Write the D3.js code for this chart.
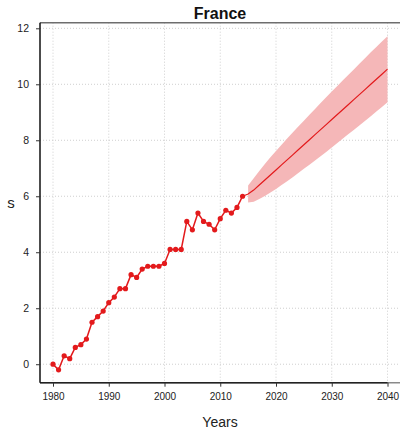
<!DOCTYPE html>
<html>
<head>
<meta charset="utf-8">
<script src="https://cdn.jsdelivr.net/npm/d3@7"></script>
<style>
  html, body { margin: 0; padding: 0; background: #fff; }
  svg { display: block; font-family: "Liberation Sans", Arial, Helvetica, sans-serif; }
</style>
</head>
<body>
<svg id="chart" width="400" height="430"></svg>
<script>
// Observed series, 1980–2014
const years = d3.range(1980, 2015);
const values = [0, -0.2, 0.3, 0.2, 0.6, 0.7, 0.9, 1.5, 1.7, 1.9,
                2.2, 2.4, 2.7, 2.7, 3.2, 3.1, 3.4, 3.5, 3.5, 3.5,
                3.6, 4.1, 4.1, 4.1, 5.1, 4.8, 5.4, 5.1, 5.0, 4.8,
                5.2, 5.5, 5.4, 5.6, 6.0];

// Forecast, 2015–2040: point forecast with lower / upper interval bounds
const forecastYears = d3.range(2015, 2041);
const forecastMean = [6.08, 6.22, 6.40, 6.58, 6.76, 6.94, 7.12, 7.30, 7.48, 7.66,
                      7.84, 8.02, 8.20, 8.38, 8.56, 8.74, 8.92, 9.10, 9.28, 9.46,
                      9.64, 9.82, 10.00, 10.18, 10.36, 10.54];
const forecastLower = [5.78, 5.80, 5.90, 6.01, 6.13, 6.26, 6.40, 6.54, 6.68, 6.83,
                       6.98, 7.13, 7.28, 7.43, 7.58, 7.74, 7.90, 8.06, 8.22, 8.38,
                       8.54, 8.70, 8.86, 9.03, 9.19, 9.36];
const forecastUpper = [6.38, 6.64, 6.90, 7.15, 7.39, 7.62, 7.84, 8.06, 8.28, 8.49,
                       8.70, 8.91, 9.12, 9.33, 9.54, 9.74, 9.94, 10.14, 10.34, 10.54,
                       10.74, 10.94, 11.14, 11.33, 11.53, 11.72];

const xTicks = [1980, 1990, 2000, 2010, 2020, 2030, 2040];
const yTicks = [0, 2, 4, 6, 8, 10, 12];

const title = "France";
const xLabel = "Years";
const yLabel = "s";

const svg = d3.select("#chart");
const plotLeft = 40, plotRight = 402, plotTop = 22.7, plotBottom = 382.7;

const x = d3.scaleLinear().domain([1980, 2040]).range([53, 387.5]);
const y = d3.scaleLinear().domain([-0.66, 12.2]).range([plotBottom, plotTop]);

const red = "#e31a1c";

// dotted grid
const grid = svg.append("g");
grid.selectAll("line.gx").data(xTicks).join("line")
  .attr("x1", d => x(d)).attr("x2", d => x(d))
  .attr("y1", plotTop).attr("y2", plotBottom)
  .attr("stroke", "#cfcfcf").attr("stroke-width", 1).attr("stroke-dasharray", "1,2");
grid.selectAll("line.gy").data(yTicks).join("line")
  .attr("x1", plotLeft).attr("x2", plotRight)
  .attr("y1", d => y(d)).attr("y2", d => y(d))
  .attr("stroke", "#cfcfcf").attr("stroke-width", 1).attr("stroke-dasharray", "1,2");

// interval band
const fc = forecastYears.map((yr, i) => ({ yr, m: forecastMean[i], lo: forecastLower[i], hi: forecastUpper[i] }));
svg.append("path")
  .datum(fc)
  .attr("fill", "#f5b7b8")
  .attr("d", d3.area().x(d => x(d.yr)).y0(d => y(d.lo)).y1(d => y(d.hi)));

// forecast line (joined to last observation)
const lastObs = { yr: years[years.length - 1], m: values[values.length - 1] };
svg.append("path")
  .datum([lastObs].concat(fc))
  .attr("fill", "none").attr("stroke", red).attr("stroke-width", 1.2)
  .attr("d", d3.line().x(d => x(d.yr)).y(d => y(d.m)));

// observed line and points
const obs = years.map((yr, i) => ({ yr, v: values[i] }));
svg.append("path")
  .datum(obs)
  .attr("fill", "none").attr("stroke", red).attr("stroke-width", 1.5)
  .attr("d", d3.line().x(d => x(d.yr)).y(d => y(d.v)));
svg.append("g").selectAll("circle").data(obs).join("circle")
  .attr("cx", d => x(d.yr)).attr("cy", d => y(d.v)).attr("r", 2.6)
  .attr("fill", red);

// frame
svg.append("line").attr("x1", plotLeft).attr("x2", plotRight).attr("y1", plotTop).attr("y2", plotTop)
  .attr("stroke", "#6e6e6e").attr("stroke-width", 1.5);
svg.append("line").attr("x1", plotLeft).attr("x2", plotRight).attr("y1", plotBottom).attr("y2", plotBottom)
  .attr("stroke", "#8a8a8a").attr("stroke-width", 1.5);

// axes
const xAxis = d3.axisBottom(x).tickValues(xTicks).tickFormat(d3.format("d")).tickSize(4).tickPadding(6);
const gx = svg.append("g").attr("transform", `translate(0,${plotBottom})`).call(xAxis);
gx.select(".domain").attr("d", `M${plotLeft},0H${x(2040)}`).attr("stroke", "#222").attr("stroke-width", 1.5);
gx.selectAll(".tick line").attr("stroke", "#333");
gx.selectAll(".tick text").attr("font-size", 10).attr("fill", "#222")
  .attr("font-family", "Liberation Sans, Arial, sans-serif");

const yAxis = d3.axisLeft(y).tickValues(yTicks).tickSize(4).tickPadding(7);
const gy = svg.append("g").attr("transform", `translate(${plotLeft},0)`).call(yAxis);
gy.select(".domain").attr("d", `M0,${plotTop}V${plotBottom}`).attr("stroke", "#111").attr("stroke-width", 1.5);
gy.selectAll(".tick line").attr("stroke", "#333");
gy.selectAll(".tick text").attr("font-size", 10.5).attr("fill", "#222")
  .attr("font-family", "Liberation Sans, Arial, sans-serif");

// labels
svg.append("text").attr("x", 220).attr("y", 18.5).attr("text-anchor", "middle")
  .attr("font-size", 16).attr("font-weight", "bold").attr("fill", "#111").text(title);
svg.append("text").attr("x", 220).attr("y", 427).attr("text-anchor", "middle")
  .attr("font-size", 14).attr("fill", "#222").text(xLabel);
svg.append("text").attr("x", 11).attr("y", 208).attr("text-anchor", "middle")
  .attr("font-size", 15).attr("fill", "#222").text(yLabel);
</script>
</body>
</html>
